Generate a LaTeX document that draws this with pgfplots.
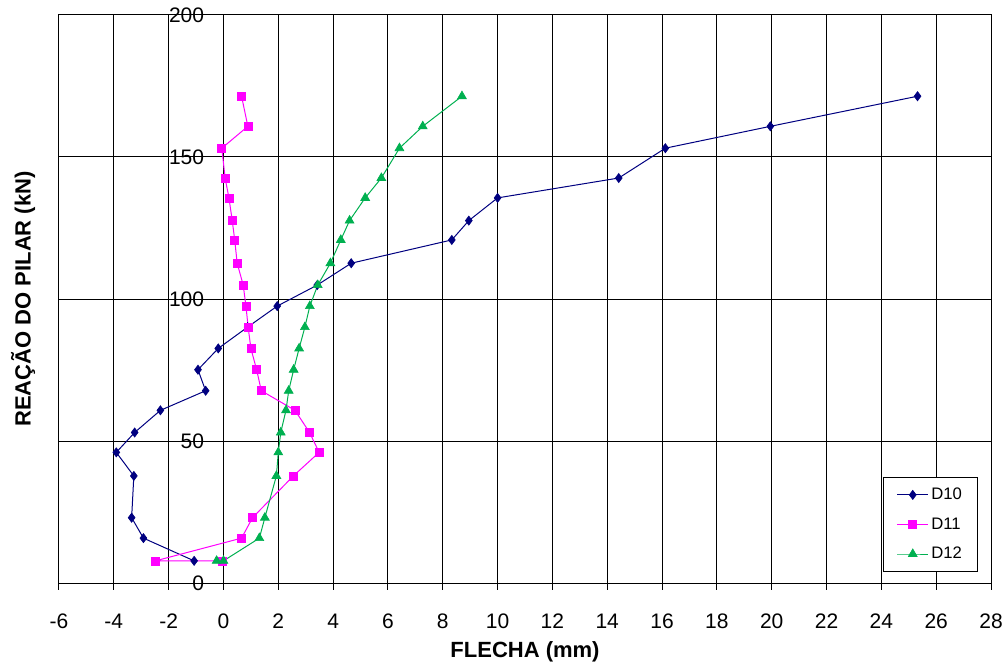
\documentclass[border=0pt]{standalone}
\usepackage{fontspec}
\setmainfont{Liberation Sans}
\usepackage{pgfplots}
\pgfplotsset{compat=1.18}
\definecolor{cD10}{RGB}{0,0,128}
\definecolor{cD11}{RGB}{255,0,255}
\definecolor{cD12}{RGB}{0,176,80}
\begin{document}
\begin{tikzpicture}
\begin{axis}[
  scale only axis,
  width=699pt, height=426pt,
  xmin=-6, xmax=28, ymin=0, ymax=200,
  xtick distance=2,
  ytick={0,50,100,150,200},
  grid=major,
  grid style={black, line width=0.75pt},
  axis line style={black, line width=0.75pt},
  /pgf/number format/assume math mode=true,
  xtick pos=bottom,
  ytick pos=left,
  tick align=center,
  major tick length=10pt,
  xtick style={black, line width=0.75pt},
  ytick style={draw=none},
  ticklabel style={font=\fontsize{15.75}{18}\selectfont},
  xticklabel style={inner sep=0pt, anchor=north, yshift=-18pt},
  yticklabel style={inner sep=0pt, anchor=east, xshift=114pt},
  xlabel={\textbf{FLECHA (mm)}},
  ylabel={\textbf{REAÇÃO DO PILAR (kN)}},
  label style={font=\fontsize{16.5}{19}\selectfont},
  xlabel style={at={(axis description cs:0.5,-0.1215)}, anchor=center},
  ylabel style={at={(axis description cs:-0.0386,0.5)}, anchor=center},
  legend style={at={(axis description cs:0.9864,0.0194)}, anchor=south east,
    draw=black, line width=0.75pt, fill=white,
    font=\fontsize{12.5}{14}\selectfont,
    inner xsep=10pt, inner ysep=6pt, row sep=8pt},
  legend cell align=left,
  legend image code/.code={\draw[mark repeat=2,mark phase=2,#1] plot coordinates {(0pt,0pt) (11.5pt,0pt) (23pt,0pt)};},
]
\addplot[color=cD10, line width=0.75pt, mark=diamond*, mark size=3.4pt, mark options={fill=cD10, draw=cD10, line width=0.5pt}] coordinates {
(-1.07,7.8) (-2.92,15.8) (-3.35,23.0) (-3.27,37.7) (-3.91,46.0) (-3.24,53.0) (-2.30,60.8) (-0.65,67.7) (-0.93,75.1) (-0.19,82.6) (0.88,90.1) (1.96,97.5) (3.42,104.9) (4.66,112.6) (8.33,120.8) (8.95,127.6) (10.00,135.6) (14.42,142.6) (16.12,153.1) (19.95,160.8) (25.32,171.4)
};
\addlegendentry{D10}
\addplot[color=cD11, line width=0.75pt, mark=square*, mark size=3pt, mark options={fill=cD11, draw=cD11, line width=0.5pt}] coordinates {
(-0.05,7.8) (-2.48,7.8) (0.66,15.8) (1.06,23.0) (2.55,37.7) (3.49,46.0) (3.14,53.0) (2.61,60.8) (1.38,67.7) (1.21,75.1) (1.00,82.6) (0.90,90.1) (0.82,97.5) (0.72,104.9) (0.50,112.6) (0.41,120.8) (0.32,127.6) (0.20,135.6) (0.06,142.6) (-0.06,153.1) (0.89,160.8) (0.66,171.4)
};
\addlegendentry{D11}
\addplot[color=cD12, line width=0.75pt, mark=triangle*, mark size=3.8pt, mark options={fill=cD12, draw=cD12, line width=0.5pt}] coordinates {
(-0.25,7.8) (0.0,7.8) (1.31,15.8) (1.51,23.0) (1.93,37.7) (2.00,46.0) (2.09,53.0) (2.28,60.8) (2.38,67.7) (2.56,75.1) (2.76,82.6) (2.97,90.1) (3.15,97.5) (3.44,104.9) (3.90,112.6) (4.28,120.8) (4.60,127.6) (5.17,135.6) (5.76,142.6) (6.42,153.1) (7.27,160.8) (8.70,171.4)
};
\addlegendentry{D12}
\end{axis}
\pgfresetboundingbox
\path ([xshift=-44.25pt,yshift=-63.75pt]current axis.south west) rectangle ([xshift=9pt,yshift=11.25pt]current axis.north east);
\end{tikzpicture}
\end{document}
